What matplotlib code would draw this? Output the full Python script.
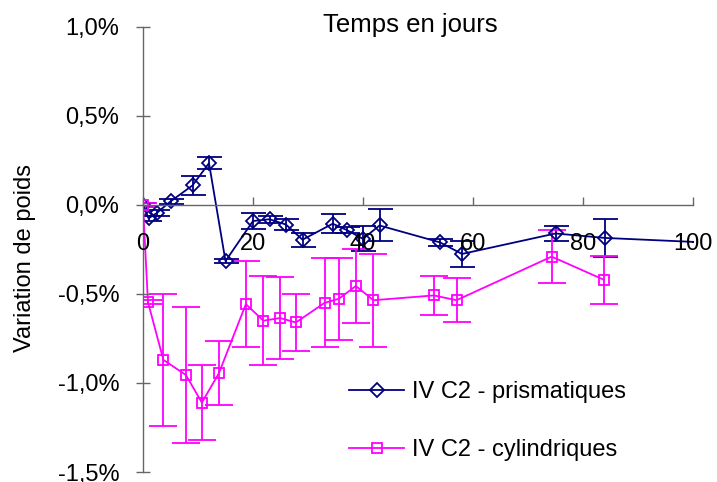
import matplotlib
matplotlib.use('Agg')
import matplotlib.pyplot as plt
from matplotlib.ticker import FuncFormatter

plt.rcParams['font.family'] = ['Liberation Sans', 'DejaVu Sans']

# prismatiques
jours_p = [0, 1, 2.5, 5, 9, 12, 15, 20, 23, 26, 29, 34.5, 37, 40, 43, 54, 58, 75, 84, 102]
poids_p = [0.0, -0.075, -0.045, 0.02, 0.11, 0.235, -0.315, -0.09, -0.08, -0.11, -0.195,
           -0.105, -0.14, -0.19, -0.115, -0.21, -0.275, -0.16, -0.185, -0.21]
err_p = [0.01, 0.015, 0.015, 0.015, 0.055, 0.034, 0.012, 0.045, 0.02, 0.03, 0.04,
         0.053, 0.015, 0.07, 0.09, 0.02, 0.075, 0.04, 0.105, 0.0]

# cylindriques
jours_c = [0, 0.9, 3.7, 7.8, 10.7, 13.8, 18.7, 21.9, 24.9, 27.8, 33, 35.6, 38.7, 41.9,
           52.9, 57, 74.3, 83.8]
poids_c = [0.0, -0.545, -0.87, -0.955, -1.11, -0.945, -0.557, -0.65, -0.635, -0.66, -0.55,
           -0.527, -0.455, -0.535, -0.508, -0.535, -0.29, -0.42]
err_c = [0.01, 0.012, 0.37, 0.38, 0.21, 0.18, 0.24, 0.25, 0.23, 0.16, 0.25, 0.23, 0.21,
         0.26, 0.11, 0.123, 0.15, 0.135]

navy = '#000080'
mag = '#FF00FF'
gris = '#666666'
fs = 17

fig = plt.figure(figsize=(7.17, 4.82), dpi=100)
ax = fig.add_axes([143/717, 1-472/482, 550/717, 445/482])

ax.errorbar(jours_p, poids_p, yerr=err_p, fmt='none', ecolor=navy, elinewidth=1.3, capsize=9, capthick=1.3)
ax.errorbar(jours_c, poids_c, yerr=err_c, fmt='none', ecolor=mag, elinewidth=1.3, capsize=10, capthick=1.3)
l1, = ax.plot(jours_p, poids_p, color=navy, lw=1.3, marker='D', ms=7, mfc='none', mec=navy, mew=1.3)
l2, = ax.plot(jours_c, poids_c, color=mag, lw=1.3, marker='s', ms=7.5, mfc='none', mec=mag, mew=1.3)

ax.set_xlim(0, 100)
ax.set_ylim(-1.5, 1.0)
ax.set_xticks([0, 20, 40, 60, 80, 100])
ax.set_yticks([-1.5, -1.0, -0.5, 0.0, 0.5, 1.0])
ax.yaxis.set_major_formatter(FuncFormatter(lambda v, p: ('%.1f%%' % v).replace('.', ',')))

ax.spines['top'].set_visible(False)
ax.spines['right'].set_visible(False)
ax.spines['bottom'].set_position(('data', 0))
for s in ['left', 'bottom']:
    ax.spines[s].set_color(gris)
    ax.spines[s].set_linewidth(1)
ax.set_axisbelow(False)

ax.tick_params(axis='x', direction='in', length=6, width=1, color=gris, pad=20, labelsize=fs)
ax.tick_params(axis='y', direction='inout', length=10, width=1, color=gris, pad=12, labelsize=fs)

fig.text(410/717, 1-25/482, 'Temps en jours', ha='center', va='center', fontsize=18.5)
fig.text(25/717, 1-258/482, 'Variation de poids', ha='center', va='center', rotation=90, fontsize=fs)

ax.legend([l1, l2], ['IV C2 - prismatiques', 'IV C2 - cylindriques'], frameon=False,
          loc='upper left', bbox_to_anchor=(340/717, 1-372/482), bbox_transform=fig.transFigure,
          fontsize=fs, handlelength=2.33, handletextpad=0.3, labelspacing=1.52, borderaxespad=0)

fig.savefig('out.png', dpi=100)
